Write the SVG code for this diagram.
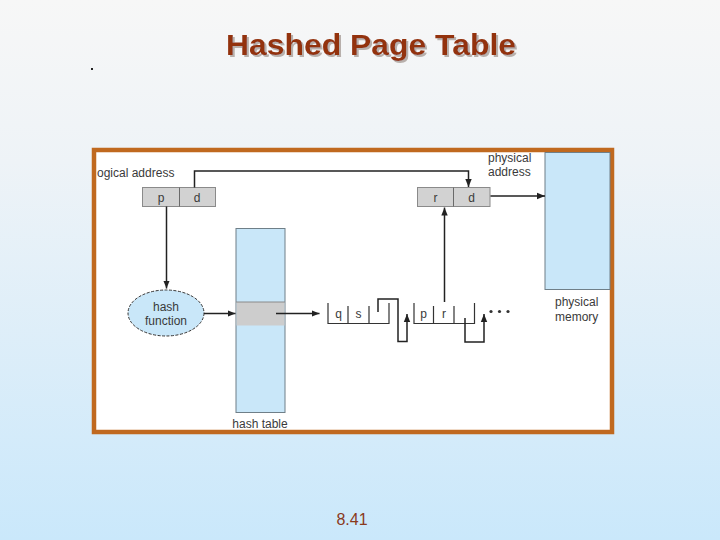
<svg xmlns="http://www.w3.org/2000/svg" width="720" height="540" viewBox="0 0 720 540">
<defs>
<linearGradient id="bg" x1="0" y1="0" x2="0" y2="1">
<stop offset="0" stop-color="#f7f7f7"/>
<stop offset="0.3" stop-color="#eef3f7"/>
<stop offset="1" stop-color="#cae8fb"/>
</linearGradient>
<filter id="sh" x="-5%" y="-20%" width="110%" height="150%">
<feDropShadow dx="2" dy="2" stdDeviation="0.4" flood-color="#b8b0ac" flood-opacity="1"/>
</filter>
<marker id="ah" viewBox="0 0 10 10" refX="10" refY="5" markerWidth="8" markerHeight="8" markerUnits="userSpaceOnUse" orient="auto">
<path d="M0,1 L10,5 L0,9 z" fill="#222"/>
</marker>
<style>
.ln{fill:none;stroke:#222;stroke-width:1.5}
.cl{fill:none;stroke:#333;stroke-width:1.2}
.lbl{font-family:"Liberation Sans",Arial,sans-serif;font-size:12px;fill:#3a3a3a}
.cell{fill:#d2d2d2;stroke:#8a8a8a;stroke-width:1}
.blue{fill:#c9e7f9;stroke:#6f7f88;stroke-width:1}
</style>
</defs>
<rect x="0" y="0" width="720" height="540" fill="url(#bg)"/>
<g id="title">
<text x="226" y="55" font-family="'Liberation Sans',Arial,sans-serif" font-weight="bold" font-size="29" fill="#933311" textLength="290" lengthAdjust="spacingAndGlyphs" filter="url(#sh)">Hashed Page Table</text>
</g>
<rect x="91" y="68" width="2" height="2" fill="#222"/>
<g id="frame">
<rect x="94" y="150" width="518" height="282" fill="#ffffff" stroke="#c0691f" stroke-width="4.5"/>
</g>
<g id="physical-memory">
<rect class="blue" x="545" y="152.5" width="65" height="137"/>
<text class="lbl" x="555" y="306">physical</text>
<text class="lbl" x="555" y="321">memory</text>
</g>
<g id="logical-address">
<text class="lbl" x="97" y="177" fill="#2a2a2a">ogical address</text>
<rect class="cell" x="142.5" y="187.5" width="73" height="19"/>
<line x1="179.5" y1="187.5" x2="179.5" y2="206.5" stroke="#6a6a6a"/>
<text class="lbl" x="161" y="201.5" text-anchor="middle">p</text>
<text class="lbl" x="197" y="201.5" text-anchor="middle">d</text>
</g>
<g id="physical-address">
<text class="lbl" x="488" y="162">physical</text>
<text class="lbl" x="488" y="175.5">address</text>
<rect class="cell" x="417.5" y="187.5" width="72.5" height="19"/>
<line x1="453.5" y1="187.5" x2="453.5" y2="206.5" stroke="#6a6a6a"/>
<text class="lbl" x="435.5" y="201.5" text-anchor="middle">r</text>
<text class="lbl" x="471.5" y="201.5" text-anchor="middle">d</text>
</g>
<g id="hash-function">
<ellipse cx="166" cy="313" rx="38" ry="23" fill="#c9e7f9" stroke="#333" stroke-width="1" stroke-dasharray="3,1.5"/>
<text class="lbl" x="166" y="310.5" text-anchor="middle" font-size="12.5">hash</text>
<text class="lbl" x="166" y="325" text-anchor="middle" font-size="12.5">function</text>
</g>
<g id="hash-table">
<rect class="blue" x="236" y="228.5" width="49" height="184"/>
<rect x="236.5" y="302" width="48" height="23.5" fill="#cdcdcd"/>
<line x1="236" y1="302" x2="285" y2="302" stroke="#8a8a8a" stroke-width="1"/>
<text class="lbl" x="260" y="428" text-anchor="middle">hash table</text>
</g>
<g id="chain-node-1">
<path class="cl" d="M328,303 V323.5 H389 V303 M348,306 V323.5 M369,306 V323.5"/>
<text class="lbl" x="338.5" y="318" text-anchor="middle">q</text>
<text class="lbl" x="358.5" y="318" text-anchor="middle">s</text>
</g>
<g id="chain-node-2">
<path class="cl" d="M414,303 V323.5 H474.5 V303 M433.5,306 V323.5 M454,306 V323.5"/>
<text class="lbl" x="423.5" y="318" text-anchor="middle">p</text>
<text class="lbl" x="444" y="318" text-anchor="middle">r</text>
</g>
<g id="ellipsis">
<circle cx="491" cy="311.5" r="1.6" fill="#333"/>
<circle cx="499.5" cy="311.5" r="1.6" fill="#333"/>
<circle cx="508" cy="311.5" r="1.6" fill="#333"/>
</g>
<g id="connectors">
<path class="ln" d="M194.5,187.5 V171 H468.5 V187" marker-end="url(#ah)"/>
<path class="ln" d="M166.5,206.5 V288.5" marker-end="url(#ah)"/>
<path class="ln" d="M204,313.5 H235.5" marker-end="url(#ah)"/>
<path class="ln" d="M276,313.5 H319.5" marker-end="url(#ah)"/>
<path class="ln" d="M490.5,196 H545" marker-end="url(#ah)"/>
<path class="ln" d="M444.5,302 V207.5" marker-end="url(#ah)"/>
<path class="ln" d="M378,312 V299 H398 V341.5 H407 V314" marker-end="url(#ah)"/>
<path class="ln" d="M465,318 V342 H484 V314" marker-end="url(#ah)"/>
</g>
<g id="page-number">
<text x="352" y="525" text-anchor="middle" font-family="'Liberation Sans',Arial,sans-serif" font-size="16" fill="#8a3a1c">8.41</text>
</g>
</svg>
